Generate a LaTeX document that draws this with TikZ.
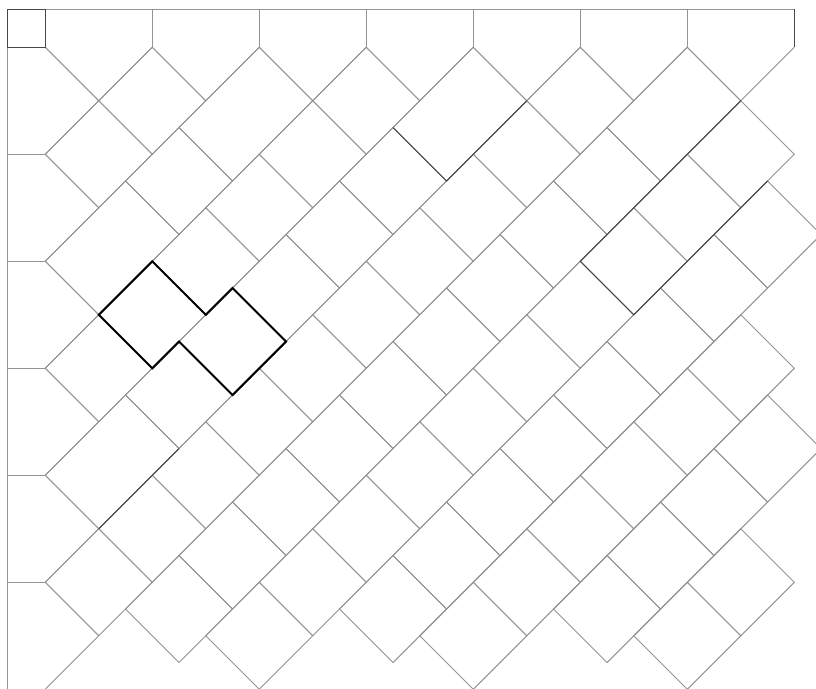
\documentclass[tikz,border=0pt]{standalone}
\tikzset{
  tileline/.style={draw=black!42, line width=0.9pt},
  darkline/.style={draw=black!72, line width=1pt},
  boldline/.style={draw=black, line width=2pt, line join=miter},
}
\newcommand\tileq[3]{\draw[tileline] (#1,#2) -- (#1,#3) -- ({#1+2},#3) -- ({#1+2},#2) -- cycle;}
\begin{document}
\begin{tikzpicture}
\useasboundingbox (-45.3pt,47.3pt) rectangle (770.7pt,-640.7pt);
\fill[white] (-45.3pt,47.3pt) rectangle (770.7pt,-640.7pt);
\clip (-45.3pt,47.3pt) rectangle (770.7pt,-640.7pt);
% tiles in (s,t) lattice coordinates
\begin{scope}[x={(26.75pt,-26.75pt)}, y={(26.75pt,26.75pt)}]
  % row 1
  \foreach \a in {-2,0} {\tileq{2}{\a}{\a+2}}
  % row 2
  \tileq{4}{-4}{-1} \tileq{4}{-1}{1} \tileq{4}{1}{4}
  % row 3
  \foreach \a in {-6,-4,...,4} {\tileq{6}{\a}{\a+2}}
  % row 4
  \tileq{8}{-8}{-5}
  \foreach \a in {-5,-3,...,3} {\tileq{8}{\a}{\a+2}}
  \tileq{8}{5}{8}
  % row 5
  \foreach \a in {-10,-8,...,8} {\tileq{10}{\a}{\a+2}}
  % row 6
  \foreach \a in {-9,-7,...,7} {\tileq{12}{\a}{\a+2}}
  \tileq{12}{9}{12}
  % row 7
  \foreach \a in {-8,-6,...,10} {\tileq{14}{\a}{\a+2}}
  % row 8
  \foreach \a in {-5,-3,...,9} {\tileq{16}{\a}{\a+2}}
  % row 9
  \foreach \a in {-4,-2,...,6} {\tileq{18}{\a}{\a+2}}
  % row 10
  \foreach \a in {-1,1,...,5} {\tileq{20}{\a}{\a+2}}
  % row 11
  \foreach \a in {0,2} {\tileq{22}{\a}{\a+2}}
\end{scope}
% borders and highlights in (i,j) coordinates
\begin{scope}[x={(53.5pt,0pt)}, y={(0pt,-53.5pt)}]
  \def\w{0.7071}
  % top border
  \foreach \k in {0,...,6} {\draw[tileline] (2*\k,0) -- (2*\k+1,1) -- (2*\k+2,0);}
  \foreach \k in {1,...,6} {\draw[tileline] (2*\k,0) -- (2*\k,-\w);}
  \draw[tileline] (-\w,-\w) -- (14,-\w);
  % left border
  \foreach \k in {0,...,5} {\draw[tileline] (0,2*\k) -- (1,2*\k+1) -- (0,2*\k+2);}
  \foreach \k in {1,...,5} {\draw[tileline] (0,2*\k) -- (-\w,2*\k);}
  \draw[tileline] (-\w,-\w) -- (-\w,12.5);
  % darker strokes
  \draw[darkline] (14,-\w) -- (14,0);
  \draw[darkline] (-\w,-\w) rectangle (0,0);
  \draw[darkline] (1,9) -- (2.5,7.5);
  \draw[darkline] (6.5,1.5) -- (7.5,2.5) -- (9,1);
  \draw[darkline] (13,1) -- (10,4) -- (11,5) -- (13.5,2.5);
  % bold outline of two tiles
  \draw[boldline] (1,5) -- (2,4) -- (3,5) -- (3.5,4.5) -- (4.5,5.5) -- (3.5,6.5) -- (2.5,5.5) -- (2,6) -- cycle;
\end{scope}
\end{tikzpicture}
\end{document}
